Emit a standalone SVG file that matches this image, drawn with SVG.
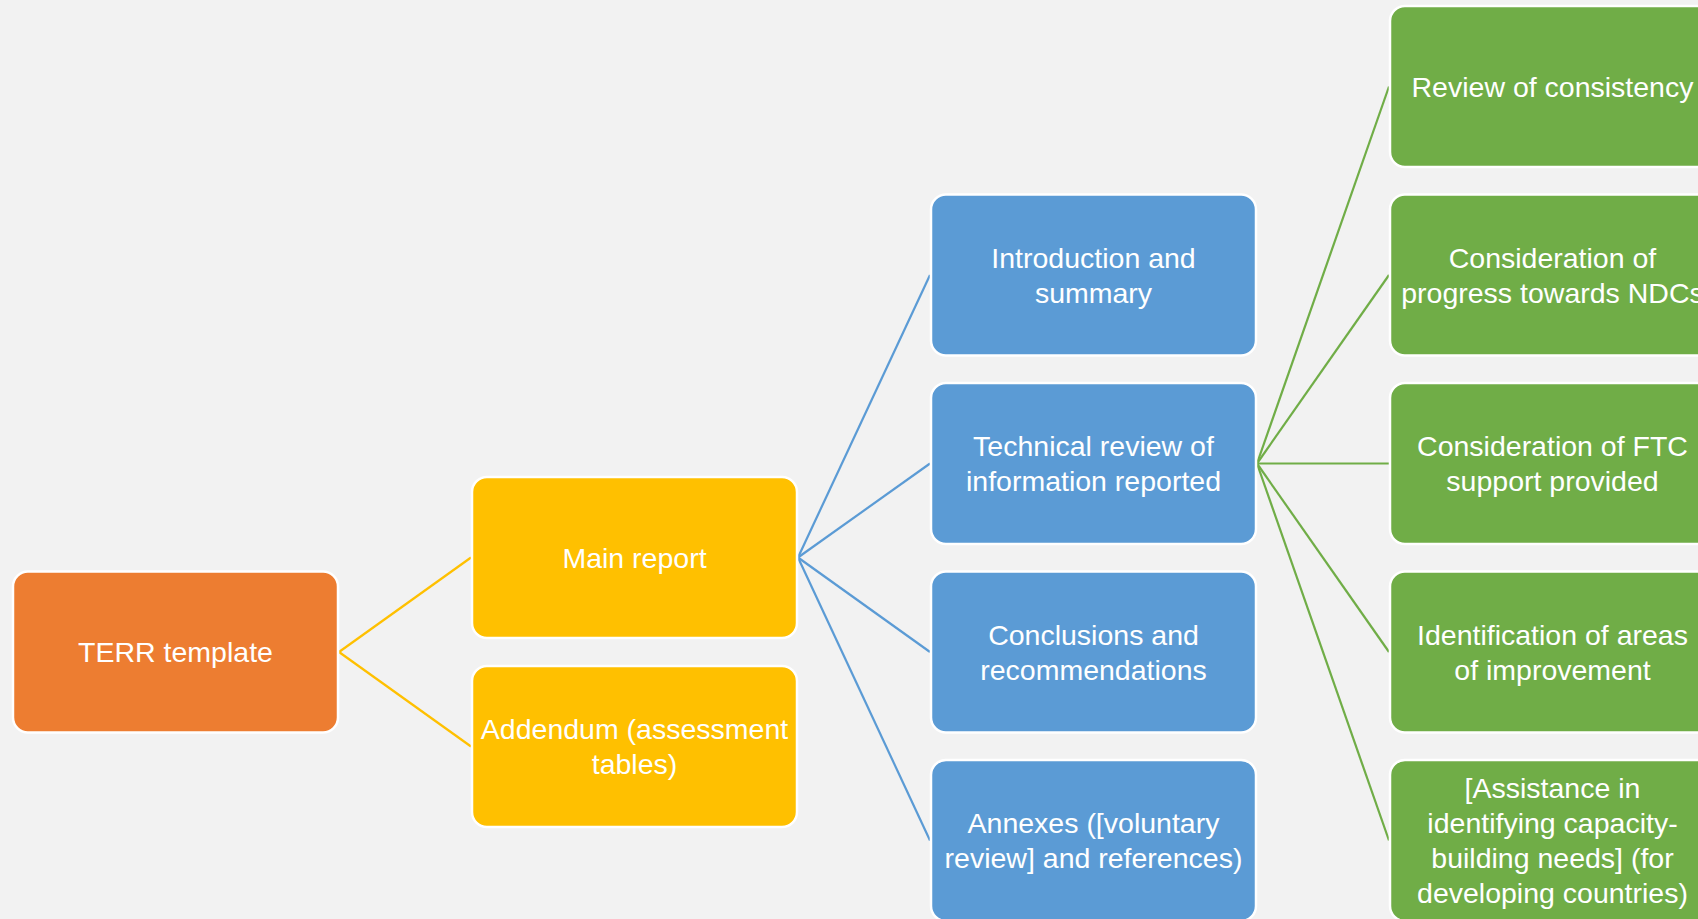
<svg xmlns="http://www.w3.org/2000/svg" width="1698" height="919" viewBox="0 0 1698 919">
<style>
.box{stroke:#ffffff;stroke-width:2.5}
.orange{fill:#ED7D31}
.yellow{fill:#FFC000}
.blue{fill:#5B9BD5}
.green{fill:#70AD47}
.lbl{font-family:"Liberation Sans",Arial,sans-serif;font-size:28.5px;fill:#ffffff;text-anchor:middle}
.c-y{stroke:#FFC000;stroke-width:2.2;fill:none}
.c-b{stroke:#5B9BD5;stroke-width:2.2;fill:none}
.c-g{stroke:#70AD47;stroke-width:2.2;fill:none}
</style>
<rect x="0" y="0" width="1698" height="919" fill="#F2F2F2"/>
<g id="connectors">
<line class="c-y" x1="339" y1="652" x2="471" y2="557.5"/>
<line class="c-y" x1="339" y1="652" x2="471" y2="746.5"/>
<line class="c-b" x1="798" y1="557.5" x2="930" y2="275"/>
<line class="c-b" x1="798" y1="557.5" x2="930" y2="463.5"/>
<line class="c-b" x1="798" y1="557.5" x2="930" y2="652"/>
<line class="c-b" x1="798" y1="557.5" x2="930" y2="840.5"/>
<line class="c-g" x1="1257" y1="463.5" x2="1389" y2="86.5"/>
<line class="c-g" x1="1257" y1="463.5" x2="1389" y2="275"/>
<line class="c-g" x1="1257" y1="463.5" x2="1389" y2="463.5"/>
<line class="c-g" x1="1257" y1="463.5" x2="1389" y2="652"/>
<line class="c-g" x1="1257" y1="463.5" x2="1389" y2="840.5"/>
</g>
<g id="terr">
<rect class="box orange" x="13" y="571.5" width="325" height="161" rx="15"/>
<text class="lbl" x="175.5" y="662">TERR template</text>
</g>
<g id="main-report">
<rect class="box yellow" x="472" y="477" width="325" height="161" rx="15"/>
<text class="lbl" x="634.5" y="567.5">Main report</text>
</g>
<g id="addendum">
<rect class="box yellow" x="472" y="666" width="325" height="161" rx="15"/>
<text class="lbl" x="634.5" y="739">Addendum (assessment</text>
<text class="lbl" x="634.5" y="774">tables)</text>
</g>
<g id="introduction">
<rect class="box blue" x="931" y="194.5" width="325" height="161" rx="15"/>
<text class="lbl" x="1093.5" y="267.5">Introduction and</text>
<text class="lbl" x="1093.5" y="302.5">summary</text>
</g>
<g id="technical-review">
<rect class="box blue" x="931" y="383" width="325" height="161" rx="15"/>
<text class="lbl" x="1093.5" y="456">Technical review of</text>
<text class="lbl" x="1093.5" y="491">information reported</text>
</g>
<g id="conclusions">
<rect class="box blue" x="931" y="571.5" width="325" height="161" rx="15"/>
<text class="lbl" x="1093.5" y="644.5">Conclusions and</text>
<text class="lbl" x="1093.5" y="679.5">recommendations</text>
</g>
<g id="annexes">
<rect class="box blue" x="931" y="760" width="325" height="161" rx="15"/>
<text class="lbl" x="1093.5" y="833">Annexes ([voluntary</text>
<text class="lbl" x="1093.5" y="868">review] and references)</text>
</g>
<g id="review-consistency">
<rect class="box green" x="1390" y="6" width="325" height="161" rx="15"/>
<text class="lbl" x="1552.5" y="96.5">Review of consistency</text>
</g>
<g id="progress-ndcs">
<rect class="box green" x="1390" y="194.5" width="325" height="161" rx="15"/>
<text class="lbl" x="1552.5" y="267.5">Consideration of</text>
<text class="lbl" x="1552.5" y="302.5">progress towards NDCs</text>
</g>
<g id="ftc-support">
<rect class="box green" x="1390" y="383" width="325" height="161" rx="15"/>
<text class="lbl" x="1552.5" y="456">Consideration of FTC</text>
<text class="lbl" x="1552.5" y="491">support provided</text>
</g>
<g id="areas-improvement">
<rect class="box green" x="1390" y="571.5" width="325" height="161" rx="15"/>
<text class="lbl" x="1552.5" y="644.5">Identification of areas</text>
<text class="lbl" x="1552.5" y="679.5">of improvement</text>
</g>
<g id="capacity-building">
<rect class="box green" x="1390" y="760" width="325" height="161" rx="15"/>
<text class="lbl" x="1552.5" y="798">[Assistance in</text>
<text class="lbl" x="1552.5" y="833">identifying capacity-</text>
<text class="lbl" x="1552.5" y="868">building needs] (for</text>
<text class="lbl" x="1552.5" y="903">developing countries)</text>
</g>
</svg>
